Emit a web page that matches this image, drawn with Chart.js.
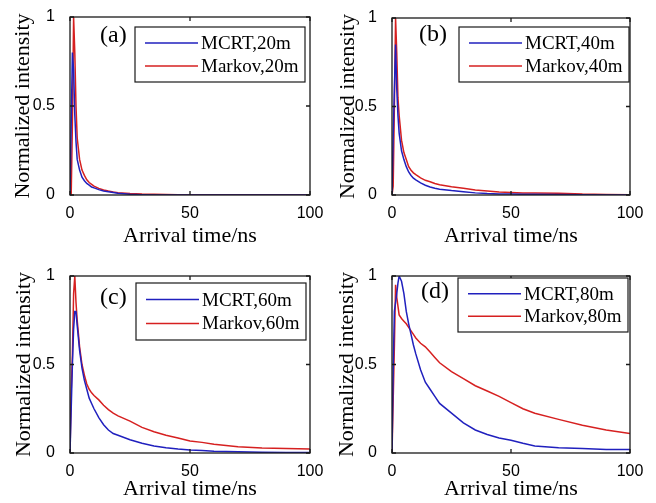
<!DOCTYPE html>
<html>
<head>
<meta charset="utf-8">
<script src="https://cdn.jsdelivr.net/npm/chart.js@4.4.1/dist/chart.umd.min.js"></script>
<style>
  body { margin: 0; background: #fff; }
  #wrap { position: relative; width: 656px; height: 503px; }
  canvas { position: absolute; }
</style>
</head>
<body>
<div id="wrap">
  <canvas id="pa" width="328" height="250" style="left:0;top:0"></canvas>
  <canvas id="pb" width="328" height="250" style="left:328px;top:0"></canvas>
  <canvas id="pc" width="328" height="253" style="left:0;top:250px"></canvas>
  <canvas id="pd" width="328" height="253" style="left:328px;top:250px"></canvas>
</div>
<script>
// Datos (tiempo de llegada en ns, intensidad normalizada)
const times = [0, 0.5, 1, 1.5, 2, 2.5, 3, 4, 5, 6, 7, 8, 9, 10, 12, 14, 16, 18, 20, 25, 30, 35, 40, 45, 50, 55, 60, 70, 80, 90, 100];

const mcrt20 = [0, 0.4, 0.8, 0.7, 0.45, 0.3, 0.2, 0.14, 0.1, 0.08, 0.065, 0.055, 0.045, 0.04, 0.03, 0.022, 0.018, 0.014, 0.01, 0.004, 0.002, 0, 0, 0, 0, 0, 0, 0, 0, 0, 0];
const markov20 = [0, 0, 0.4, 1, 0.8, 0.5, 0.32, 0.2, 0.14, 0.11, 0.085, 0.07, 0.06, 0.05, 0.037, 0.028, 0.022, 0.017, 0.013, 0.008, 0.005, 0.004, 0.003, 0.002, 0.002, 0.002, 0.002, 0.002, 0.002, 0.002, 0.002];

const mcrt40 = [0, 0.33, 0.6, 0.85, 0.6, 0.45, 0.35, 0.25, 0.2, 0.16, 0.13, 0.11, 0.095, 0.085, 0.068, 0.055, 0.045, 0.038, 0.033, 0.025, 0.019, 0.012, 0.008, 0.006, 0.005, 0.004, 0.004, 0.003, 0.001, 0, 0];
const markov40 = [0, 0.05, 0.5, 1, 0.8, 0.55, 0.45, 0.31, 0.24, 0.2, 0.16, 0.14, 0.125, 0.115, 0.097, 0.083, 0.075, 0.065, 0.058, 0.047, 0.038, 0.028, 0.022, 0.017, 0.014, 0.012, 0.011, 0.01, 0.005, 0.003, 0.002];

const mcrt60 = [0, 0.25, 0.5, 0.7, 0.8, 0.8, 0.72, 0.58, 0.48, 0.41, 0.36, 0.31, 0.28, 0.25, 0.2, 0.16, 0.13, 0.11, 0.1, 0.075, 0.055, 0.04, 0.03, 0.022, 0.017, 0.014, 0.01, 0.007, 0.004, 0.003, 0.003];
const markov60 = [0, 0.35, 0.55, 0.9, 1, 0.85, 0.75, 0.6, 0.5, 0.44, 0.39, 0.36, 0.34, 0.325, 0.3, 0.27, 0.245, 0.225, 0.21, 0.18, 0.145, 0.12, 0.1, 0.085, 0.068, 0.06, 0.05, 0.035, 0.028, 0.025, 0.022];

const mcrt80 = [0, 0.47, 0.8, 0.85, 0.9, 0.96, 1, 0.97, 0.9, 0.8, 0.73, 0.67, 0.61, 0.56, 0.47, 0.4, 0.36, 0.32, 0.28, 0.225, 0.17, 0.13, 0.105, 0.085, 0.072, 0.055, 0.04, 0.03, 0.025, 0.02, 0.02];
const markov80 = [0, 0.3, 0.6, 0.95, 0.88, 0.83, 0.78, 0.76, 0.745, 0.73, 0.71, 0.69, 0.67, 0.65, 0.62, 0.6, 0.57, 0.54, 0.51, 0.46, 0.42, 0.38, 0.35, 0.32, 0.285, 0.25, 0.225, 0.19, 0.157, 0.13, 0.11];

const xTicks = [0, 50, 100];
const yTicks = [0, 0.5, 1];

const azul = "rgb(32,32,190)";
const rojo = "rgb(214,32,32)";
const serif = "'Liberation Serif', 'Times New Roman', serif";
const sans = "'Liberation Sans', Arial, sans-serif";

// Marco estilo MATLAB: caja, marcas interiores, etiqueta del panel y leyenda
const marcoMatlab = {
  id: "marcoMatlab",
  afterDatasetsDraw(chart, args, opts) {
    const { ctx, chartArea: a, scales } = chart;
    ctx.save();
    ctx.strokeStyle = "#1a1a1a";
    ctx.lineWidth = 1.3;
    ctx.strokeRect(a.left, a.top, a.right - a.left, a.bottom - a.top);

    ctx.beginPath();
    scales.x.ticks.forEach((t) => {
      const px = scales.x.getPixelForValue(t.value);
      ctx.moveTo(px, a.bottom); ctx.lineTo(px, a.bottom - 4);
      ctx.moveTo(px, a.top); ctx.lineTo(px, a.top + 4);
    });
    scales.y.ticks.forEach((t) => {
      const py = scales.y.getPixelForValue(t.value);
      ctx.moveTo(a.left, py); ctx.lineTo(a.left + 4, py);
      ctx.moveTo(a.right, py); ctx.lineTo(a.right - 4, py);
    });
    ctx.stroke();

    // etiqueta (a), (b)...
    ctx.fillStyle = "#000";
    ctx.font = "24px " + serif;
    ctx.textBaseline = "middle";
    ctx.textAlign = "left";
    ctx.fillText(opts.tag, a.left + opts.tagX, a.top + opts.tagY);

    // leyenda
    const bw = 170, bh = opts.legH;
    const bx = a.right + opts.legDx - bw;
    const by = a.top + opts.legDy;
    ctx.fillStyle = "#fff";
    ctx.fillRect(bx, by, bw, bh);
    ctx.lineWidth = 1.2;
    ctx.strokeRect(bx, by, bw, bh);
    ctx.font = "19px " + serif;
    chart.data.datasets.forEach((ds, i) => {
      const ry = by + (i === 0 ? bh * 0.29 : bh * 0.71);
      ctx.strokeStyle = ds.borderColor;
      ctx.lineWidth = 1.5;
      ctx.beginPath();
      ctx.moveTo(bx + 10, ry);
      ctx.lineTo(bx + 63, ry);
      ctx.stroke();
      ctx.fillStyle = "#000";
      ctx.fillText(ds.label, bx + 66, ry + 1);
    });
    ctx.restore();
  },
};

function puntos(vals) {
  return times.map((t, i) => ({ x: t, y: vals[i] }));
}

function crearPanel(id, area, alto, ancho, cfg, azulVals, rojoVals, azulLbl, rojoLbl) {
  const ctx = document.getElementById(id).getContext("2d");
  return new Chart(ctx, {
    type: "line",
    data: {
      datasets: [
        { label: azulLbl, data: puntos(azulVals), borderColor: azul, borderWidth: 1.5, pointRadius: 0, tension: 0 },
        { label: rojoLbl, data: puntos(rojoVals), borderColor: rojo, borderWidth: 1.5, pointRadius: 0, tension: 0 },
      ],
    },
    options: {
      responsive: false,
      animation: false,
      layout: { padding: { top: area.top, right: ancho - area.right, left: 0, bottom: 0 } },
      plugins: {
        legend: { display: false },
        tooltip: { enabled: false },
        marcoMatlab: cfg,
      },
      scales: {
        x: {
          type: "linear",
          min: 0,
          max: 100,
          afterBuildTicks: (s) => { s.ticks = xTicks.map((v) => ({ value: v })); },
          afterFit: (s) => { s.height = alto - area.bottom; },
          grid: { display: false },
          border: { display: false },
          ticks: { color: "#000", padding: 1, font: { family: sans, size: 16 }, callback: (v) => String(v) },
          title: { display: true, text: "Arrival time/ns", color: "#000", padding: { top: 0, bottom: 1 }, font: { family: serif, size: 22 } },
        },
        y: {
          min: 0,
          max: 1,
          afterBuildTicks: (s) => { s.ticks = yTicks.map((v) => ({ value: v })); },
          afterFit: (s) => { s.width = area.left; },
          grid: { display: false },
          border: { display: false },
          ticks: { color: "#000", padding: 7, font: { family: sans, size: 16 }, callback: (v) => String(v) },
          title: { display: true, text: "Normalized intensity", color: "#000", padding: { top: cfg.yPad, bottom: 0 }, font: { family: serif, size: 22 } },
        },
      },
    },
    plugins: [marcoMatlab],
  });
}

crearPanel("pa", { left: 70, top: 17, right: 310, bottom: 195 }, 250, 328,
  { tag: "(a)", tagX: 30, tagY: 19, legDx: -5, legDy: 10, legH: 55, yPad: 10 },
  mcrt20, markov20, "MCRT,20m", "Markov,20m");
crearPanel("pb", { left: 64, top: 18, right: 302, bottom: 195 }, 250, 328,
  { tag: "(b)", tagX: 27, tagY: 17, legDx: -1, legDy: 9, legH: 55, yPad: 7 },
  mcrt40, markov40, "MCRT,40m", "Markov,40m");
crearPanel("pc", { left: 70, top: 26, right: 310, bottom: 203 }, 253, 328,
  { tag: "(c)", tagX: 30, tagY: 22, legDx: -4, legDy: 7, legH: 57, yPad: 11 },
  mcrt60, markov60, "MCRT,60m", "Markov,60m");
crearPanel("pd", { left: 64, top: 26, right: 302, bottom: 203 }, 253, 328,
  { tag: "(d)", tagX: 29, tagY: 16, legDx: -2, legDy: 2, legH: 54, yPad: 6 },
  mcrt80, markov80, "MCRT,80m", "Markov,80m");
</script>
</body>
</html>
